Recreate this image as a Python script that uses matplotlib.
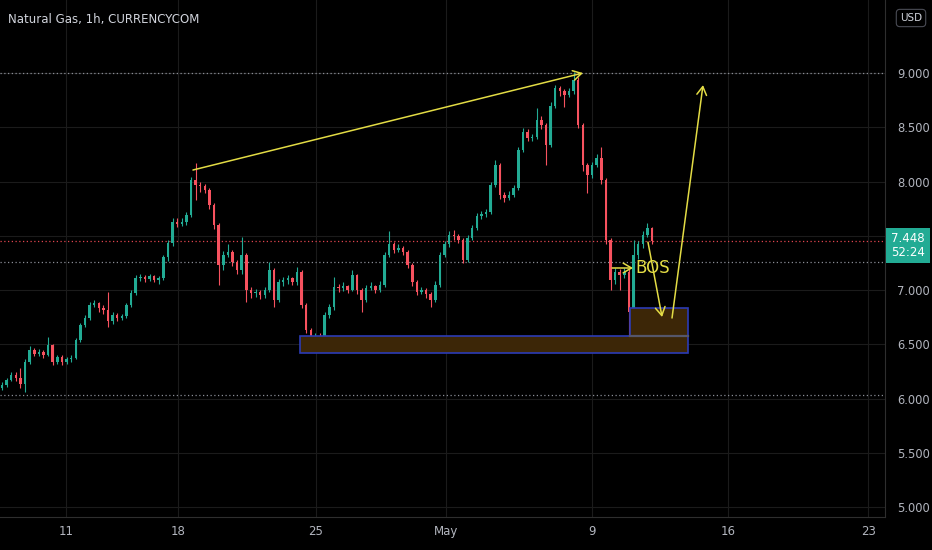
import matplotlib
matplotlib.use("Agg")
import matplotlib.pyplot as plt
from matplotlib.patches import Rectangle
import numpy as np

# 4h candles (price, USD); open = previous close
first_open = 6.10
closes = [6.12, 6.17, 6.22, 6.19, 6.13, 6.34, 6.45, 6.41, 6.43, 6.40,
          6.49, 6.34, 6.38, 6.34, 6.36, 6.37, 6.54, 6.68, 6.74, 6.86,
          6.88, 6.83, 6.82, 6.71, 6.77, 6.74, 6.76, 6.86, 6.97, 7.11,
          7.12, 7.10, 7.13, 7.09, 7.11, 7.30, 7.43, 7.63, 7.61, 7.63,
          7.69, 8.01, 7.97, 7.96, 7.92, 7.78, 7.60, 7.23, 7.32, 7.35,
          7.26, 7.18, 7.32, 7.00, 6.97, 6.98, 6.95, 7.00, 7.18, 6.91,
          7.07, 7.09, 7.11, 7.07, 7.17, 6.86, 6.63, 6.54, 6.57, 6.55,
          6.77, 6.84, 7.03, 7.02, 7.04, 7.00, 7.14, 7.00, 6.91, 7.02,
          7.04, 7.00, 7.05, 7.32, 7.42, 7.37, 7.39, 7.35, 7.23, 7.07,
          6.98, 7.00, 6.96, 6.91, 7.05, 7.32, 7.42, 7.51, 7.50, 7.46,
          7.28, 7.48, 7.57, 7.68, 7.70, 7.72, 7.97, 8.15, 7.88, 7.85,
          7.88, 7.94, 8.29, 8.46, 8.40, 8.41, 8.57, 8.52, 8.34, 8.70,
          8.86, 8.83, 8.80, 8.83, 8.94, 8.52, 8.15, 8.06, 8.15, 8.22,
          8.01, 7.46, 7.09, 7.17, 7.14, 7.17, 6.80, 7.32, 7.42, 7.51,
          7.57, 7.448]
highs = [6.15, 6.19, 6.24, 6.24, 6.28, 6.36, 6.48, 6.47, 6.46, 6.45,
         6.57, 6.50, 6.40, 6.40, 6.38, 6.40, 6.56, 6.70, 6.77, 6.89,
         6.91, 6.89, 6.86, 6.98, 6.80, 6.79, 6.78, 6.88, 7.00, 7.14,
         7.15, 7.14, 7.15, 7.14, 7.13, 7.32, 7.46, 7.66, 7.66, 7.66,
         7.72, 8.04, 8.17, 8.00, 7.98, 7.94, 7.80, 7.62, 7.36, 7.42,
         7.37, 7.28, 7.49, 7.34, 7.03, 7.01, 7.00, 7.03, 7.26, 7.20,
         7.10, 7.12, 7.14, 7.12, 7.21, 7.18, 6.88, 6.65, 6.60, 6.60,
         6.80, 6.87, 7.12, 7.06, 7.07, 7.05, 7.18, 7.15, 7.02, 7.05,
         7.07, 7.05, 7.08, 7.35, 7.54, 7.44, 7.42, 7.41, 7.37, 7.25,
         7.09, 7.03, 7.02, 6.98, 7.08, 7.35, 7.45, 7.54, 7.55, 7.52,
         7.48, 7.51, 7.60, 7.71, 7.73, 7.75, 8.00, 8.20, 8.17, 7.90,
         7.91, 7.97, 8.32, 8.49, 8.48, 8.44, 8.68, 8.60, 8.54, 8.73,
         8.89, 8.88, 8.85, 8.86, 9.01, 8.96, 8.54, 8.17, 8.18, 8.25,
         8.32, 8.03, 7.48, 7.20, 7.19, 7.20, 7.19, 7.46, 7.45, 7.54,
         7.62, 7.58]
lows = [6.08, 6.11, 6.16, 6.16, 6.10, 6.06, 6.32, 6.39, 6.39, 6.37,
        6.39, 6.31, 6.32, 6.31, 6.32, 6.34, 6.36, 6.52, 6.66, 6.72,
        6.84, 6.80, 6.78, 6.66, 6.69, 6.71, 6.72, 6.74, 6.84, 6.95,
        7.08, 7.07, 7.08, 7.07, 7.06, 7.09, 7.27, 7.41, 7.58, 7.59,
        7.60, 7.67, 7.83, 7.90, 7.89, 7.75, 7.56, 7.05, 7.18, 7.30,
        7.22, 7.15, 7.15, 6.89, 6.93, 6.94, 6.92, 6.93, 6.98, 6.84,
        6.89, 7.04, 7.06, 7.05, 7.05, 6.83, 6.60, 6.48, 6.51, 6.48,
        6.53, 6.74, 6.82, 6.98, 6.99, 6.97, 6.99, 6.96, 6.80, 6.89,
        7.00, 6.97, 6.98, 7.03, 7.30, 7.34, 7.35, 7.32, 7.20, 7.04,
        6.95, 6.96, 6.93, 6.84, 6.89, 7.03, 7.30, 7.40, 7.46, 7.43,
        7.25, 7.26, 7.46, 7.55, 7.65, 7.67, 7.70, 7.95, 7.84, 7.81,
        7.83, 7.86, 7.92, 8.27, 8.37, 8.37, 8.39, 8.48, 8.15, 8.32,
        8.68, 8.79, 8.69, 8.78, 8.81, 8.49, 8.10, 7.89, 8.03, 8.13,
        7.98, 7.42, 7.00, 7.06, 7.00, 7.11, 6.51, 6.78, 7.29, 7.39,
        7.49, 7.42]

# time axis in trading days (weekends squeezed out), 11 Apr = 0
first_bar = -2.314
bar_step = 1 / 6
day_ticks = [0, 4.05, 9.03, 13.75, 19.02, 23.93, 29.0]
day_labels = ["11", "18", "25", "May", "9", "16", "23"]
price_ticks = [5.0, 5.5, 6.0, 6.5, 7.0, 7.5, 8.0, 8.5, 9.0]

last_price = 7.448
countdown = "52:24"
dotted_gray = [9.0, 6.028, 7.258]

# drawings (day, price)
trend_line = ((4.59, 8.106), (18.69, 9.0))
demand_zone = (8.46, 22.49, 6.419, 6.576)
order_block = (20.39, 22.49, 6.576, 6.834)
arrow_down = ((21.04, 7.442), (21.55, 6.751))
arrow_up = ((21.91, 6.742), (23.03, 8.889))
bos_line = ((19.74, 7.203), (20.50, 7.203))

bg = "#000000"
up_col = "#22ab94"
dn_col = "#f7525f"
text_col = "#b2b5be"
grid_col = "#1b1b1b"
yellow = "#e3dc45"

fig = plt.figure(figsize=(9.32, 5.5), dpi=100, facecolor=bg)
ax = fig.add_axes([0, 33 / 550, 885 / 932, 517 / 550], facecolor=bg)

x = first_bar + bar_step * np.arange(len(closes))
c = np.array(closes)
o = np.concatenate([[first_open], c[:-1]])
colors = [up_col if cc >= oo else dn_col for oo, cc in zip(o, c)]

ax.vlines(x, lows, highs, colors=colors, lw=0.8, zorder=3)
body = np.maximum(np.abs(c - o), 0.006)
ax.bar(x, body, bottom=np.minimum(o, c), width=0.09, color=colors, lw=0, zorder=3)

# horizontal dotted levels
for lv in dotted_gray:
    ax.axhline(lv, color="#8a8d96", lw=0.9, ls=(0, (1, 2)), zorder=2)
ax.axhline(last_price, color="#e0444f", lw=0.9, ls=(0, (1, 2)), zorder=2)

# zones
for x0, x1, y0, y1 in (demand_zone, order_block):
    ax.add_patch(Rectangle((x0, y0), x1 - x0, y1 - y0, facecolor="#3c2607",
                           edgecolor="#2c3bb5", lw=1.2, zorder=4))
ax.plot([order_block[0], order_block[1]], [order_block[2]] * 2, color="#55566a", lw=1.6, zorder=5)

# yellow drawings
arrow_kw = dict(arrowstyle="->,head_length=0.6,head_width=0.35", color=yellow, lw=1.1,
                shrinkA=0, shrinkB=0)
for a, b in (trend_line, arrow_down, arrow_up, bos_line):
    ax.annotate("", xy=b, xytext=a, arrowprops=arrow_kw, zorder=6)
ax.text(bos_line[1][0] + 0.08, bos_line[1][1], "BOS", color=yellow, fontsize=12,
        va="center", ha="left", zorder=6)

ax.set_xlim(-2.386, 29.61)
ax.set_ylim(4.908, 9.673)

ax.set_xticks(day_ticks)
ax.set_xticklabels(day_labels)
ax.set_yticks(price_ticks)
# the 7.500 label sits under the last-price tag
ax.set_yticklabels(["" if p == 7.5 else f"{p:.3f}" for p in price_ticks])
ax.yaxis.tick_right()
ax.tick_params(axis="y", length=0, pad=9, labelcolor=text_col, labelsize=8.3)
ax.tick_params(axis="x", length=0, pad=6, labelcolor=text_col, labelsize=8.5)
ax.grid(True, color=grid_col, lw=0.8, zorder=0)
ax.set_axisbelow(True)

for s in ("top", "left"):
    ax.spines[s].set_visible(False)
for s in ("right", "bottom"):
    ax.spines[s].set_color("#2e2e2e")

# last price label
ax.add_patch(Rectangle((1.001, 7.249), 0.0497, 0.322, transform=ax.get_yaxis_transform(),
                       facecolor=up_col, edgecolor="none", clip_on=False, zorder=10))
ax.text(1.026, 7.478, f"{last_price:.3f}", transform=ax.get_yaxis_transform(), ha="center",
        va="center", color="white", fontsize=8.5, clip_on=False, zorder=11)
ax.text(1.026, 7.345, countdown, transform=ax.get_yaxis_transform(), ha="center",
        va="center", color="white", fontsize=8.5, clip_on=False, zorder=11)

fig.text(8 / 932, 1 - 19 / 550, "Natural Gas, 1h, CURRENCYCOM", color="#d1d4dc",
         fontsize=8.5, va="center", ha="left")
fig.text(911 / 932, 1 - 18 / 550, "USD", color="#d1d4dc", fontsize=7.5, ha="center", va="center",
         bbox=dict(boxstyle="round,pad=0.35", facecolor=bg, edgecolor="#4a4c55", lw=0.8))

fig.savefig("out.png", dpi=100, facecolor=bg)
